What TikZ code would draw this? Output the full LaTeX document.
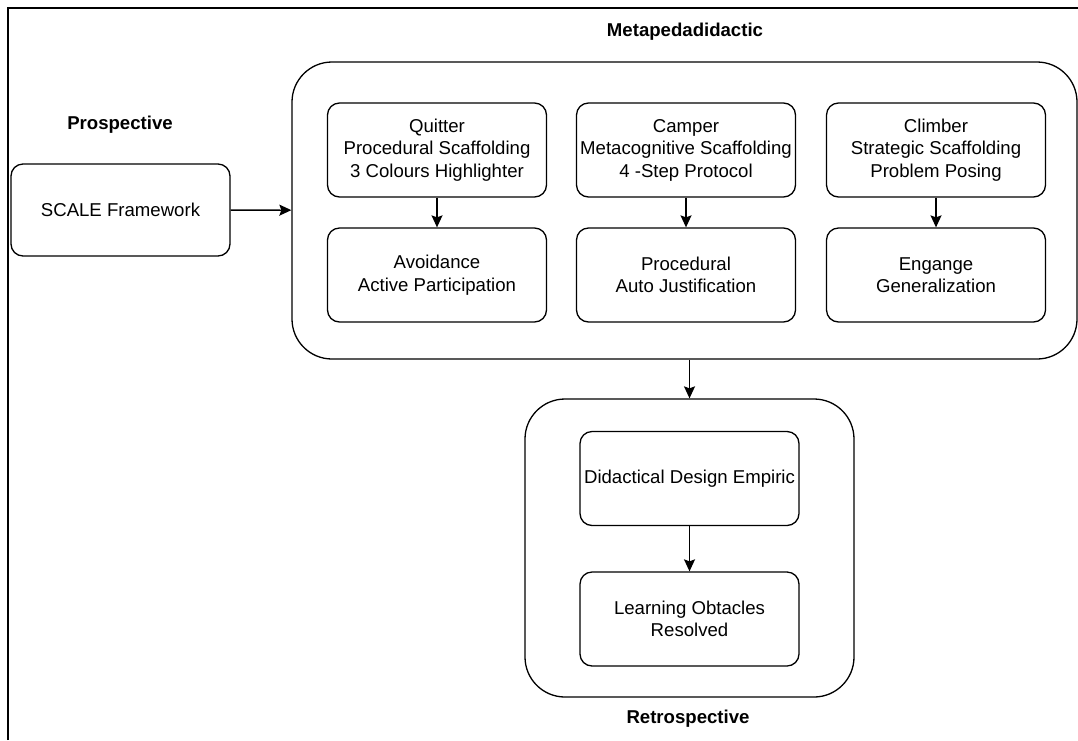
\documentclass[tikz,border=0pt]{standalone}
\usepackage{fontspec}
\setmainfont{Liberation Sans}
\usepackage{tikz}
\usetikzlibrary{positioning, arrows.meta}

\tikzset{
    box/.style={draw, line width=1.3pt, rounded corners=12pt, align=center,
        minimum width=219pt, minimum height=94pt, inner sep=2pt},
    bigbox/.style={draw, line width=1.3pt, rounded corners=40pt},
    tag/.style={font=\fontsize{18.6}{22.5}\selectfont\bfseries},
    arr/.style={line width=1.3pt, -{Stealth[length=12pt, width=11pt, inset=2pt]}}
}

\begin{document}
\begin{tikzpicture}[x=1pt, y=-1pt, font=\fontsize{18.6}{22.5}\selectfont]
    \useasboundingbox (0,0) rectangle (1078,740);

    % Frame
    \draw[line width=1.8pt] (8,740) -- (8,8) -- (1078,8);

    % Prospective
    \node[tag] (prosp) at (120,125) {Prospective};
    \node[box, minimum width=219pt, minimum height=92pt] (scale) at (120.5,210) {SCALE Framework};

    % Metapedadidactic block
    \node[tag] (meta lbl) at (685,32) {Metapedadidactic};
    \node[bigbox, minimum width=785pt, minimum height=297pt] (meta) at (684.5,210.5) {};
    \draw[arr] (scale) -- (meta);

    % Inner boxes (top -> bottom)
    \foreach \name/\x/\txta/\txtb in {
        quit/437/{Quitter\\Procedural Scaffolding\\3 Colours Highlighter}/{Avoidance\\Active Participation},
        camp/686/{Camper\\Metacognitive Scaffolding\\4 -Step Protocol}/{Procedural\\Auto Justification},
        climb/936/{Climber\\Strategic Scaffolding\\Problem Posing}/{Engange\\Generalization}} {
        \node[box] (\name top) at (\x,150) {\txta};
        \node[box] (\name bot) at (\x,275) {\txtb};
        \draw[arr] (\name top) -- (\name bot);
    }

    % Retrospective block
    \node[bigbox, minimum width=329pt, minimum height=298pt] (retro) at (689.5,548) {};
    \node[tag] (retro lbl) at (688,719) {Retrospective};
    \draw[arr] (retro.north |- meta.south) -- (retro.north);

    \node[box] (design) at (689.5,478.5) {Didactical Design Empiric};
    \node[box] (obst) at (689.5,619) {Learning Obtacles\\Resolved};
    \draw[arr] (design) -- (obst);
\end{tikzpicture}
\end{document}
